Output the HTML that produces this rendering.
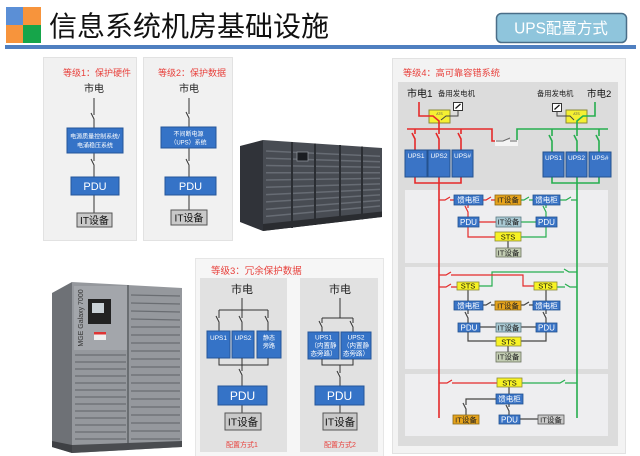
<!DOCTYPE html>
<html><head><meta charset="utf-8">
<style>
html,body{margin:0;padding:0;background:#fff;}
svg{display:block;font-family:"Liberation Sans","Noto Sans CJK SC",sans-serif;}
</style></head><body>
<svg width="640" height="456" viewBox="0 0 640 456" xmlns="http://www.w3.org/2000/svg">
<rect width="640" height="456" fill="#fff"/>
<!-- Header -->
<rect x="6" y="7" width="17" height="18" fill="#5b8fd6"/>
<rect x="23" y="7" width="18" height="18" fill="#f7943c"/>
<rect x="6" y="25" width="17" height="18" fill="#f7943c"/>
<rect x="23" y="25" width="18" height="18" fill="#16a54a"/>
<text x="49" y="36" font-size="28" fill="#111">信息系统机房基础设施</text>
<rect x="5" y="45" width="631" height="4" fill="#4f7fc0"/>
<rect x="496.5" y="13.5" width="130" height="29" rx="5" fill="#8fc5dc" stroke="#4a6e88" stroke-width="1.5"/>
<text x="561" y="33.5" font-size="15.5" fill="#fff" text-anchor="middle">UPS配置方式</text>

<!-- Level 1 -->
<rect x="43.5" y="57.5" width="93" height="183" fill="#f1f1f1" stroke="#e2e2e2"/>
<text x="63" y="76" font-size="9" fill="#e8413c">等级1：保护硬件</text>
<text x="94" y="92" font-size="10" fill="#222" text-anchor="middle">市电</text>
<path d="M94 98V115 M91 113L94 119V128 M94 153V161 M91 159L94 165V177 M94 195V213" stroke="#333" fill="none"/>
<rect x="67" y="128" width="56" height="25" fill="#3573c7" stroke="#25569a"/>
<text x="95" y="138.5" font-size="6" fill="#fff" text-anchor="middle">电源质量控制系统/</text>
<text x="95" y="147.5" font-size="6" fill="#fff" text-anchor="middle">电涌稳压系统</text>
<rect x="71" y="177" width="48" height="18" fill="#3573c7" stroke="#25569a"/>
<text x="95" y="190" font-size="11" fill="#fff" text-anchor="middle">PDU</text>
<rect x="77" y="213" width="35" height="14" fill="#c9c9c9" stroke="#555"/>
<text x="94.5" y="224" font-size="10" fill="#111" text-anchor="middle">IT设备</text>

<!-- Level 2 -->
<rect x="143.5" y="57.5" width="89" height="183" fill="#f1f1f1" stroke="#e2e2e2"/>
<text x="158" y="76" font-size="9" fill="#e8413c">等级2：保护数据</text>
<text x="189" y="92" font-size="10" fill="#222" text-anchor="middle">市电</text>
<path d="M189 98V114 M186 112L189 118V127 M189 148V161 M186 159L189 165V177 M189 195V210" stroke="#333" fill="none"/>
<rect x="161" y="127" width="55" height="21" fill="#3573c7" stroke="#25569a"/>
<text x="188.5" y="136" font-size="6" fill="#fff" text-anchor="middle">不间断电源</text>
<text x="188.5" y="144.5" font-size="6" fill="#fff" text-anchor="middle">（UPS）系统</text>
<rect x="165" y="177" width="51" height="18" fill="#3573c7" stroke="#25569a"/>
<text x="190.5" y="190" font-size="11" fill="#fff" text-anchor="middle">PDU</text>
<rect x="171" y="210" width="36" height="15" fill="#c9c9c9" stroke="#555"/>
<text x="189" y="221.5" font-size="10" fill="#111" text-anchor="middle">IT设备</text>

<!-- Photo 1: cabinet row -->
<g>
<polygon points="240,146 263,140 263,231 240,222" fill="#303339"/>
<polygon points="263,140 382,148 382,217 263,231" fill="#484c53"/>
<g stroke="#676c74" stroke-width="1.5">
<line x1="266" y1="151" x2="380" y2="156.3"/>
<line x1="266" y1="158.2" x2="380" y2="161.8"/>
<line x1="266" y1="165.5" x2="380" y2="167.3"/>
<line x1="266" y1="172.8" x2="380" y2="172.8"/>
<line x1="266" y1="180" x2="380" y2="178.4"/>
<line x1="266" y1="187.3" x2="380" y2="183.9"/>
<line x1="266" y1="194.6" x2="380" y2="189.4"/>
<line x1="266" y1="201.9" x2="380" y2="194.9"/>
<line x1="266" y1="209.2" x2="380" y2="200.4"/>
<line x1="266" y1="216.4" x2="380" y2="206"/>
</g>
<g stroke="#2b2e33" stroke-width="2">
<line x1="292" y1="142" x2="292" y2="228"/>
<line x1="315" y1="143.5" x2="315" y2="225"/>
<line x1="340" y1="145" x2="340" y2="222"/>
<line x1="362" y1="146.5" x2="362" y2="219.5"/>
</g>
<polygon points="263,224 382,211.5 382,217 263,231" fill="#2a2c30"/>
<rect x="297" y="152" width="11" height="9" fill="#1a1d22" stroke="#8a8f96" stroke-width="0.8"/>
</g>

<!-- Photo 2: MGE Galaxy 7000 -->
<g>
<polygon points="52,293 72,282 72,453 52,447" fill="#6e7176"/>
<polygon points="72,282 182,288 182,447 72,453" fill="#95989d"/>
<rect x="74" y="286" width="53" height="64" fill="#a3a6ab"/>
<rect x="88" y="299" width="23" height="25" fill="#222"/>
<rect x="92" y="303" width="12" height="10" fill="#c9d1d6"/>
<rect x="94" y="332" width="12" height="8" fill="#eee"/>
<rect x="94" y="332" width="12" height="2.5" fill="#d33"/>
<text transform="translate(83,318) rotate(-90)" font-size="7" fill="#333" text-anchor="middle">MGE Galaxy 7000</text>
<line x1="128" y1="285" x2="128" y2="450" stroke="#5d6065" stroke-width="1.5"/>
<g stroke="#6a6d72" stroke-width="1.2">
<line x1="75" y1="355" x2="126" y2="355"/><line x1="75" y1="362" x2="126" y2="362"/>
<line x1="75" y1="369" x2="126" y2="369"/><line x1="75" y1="376" x2="126" y2="376"/>
<line x1="75" y1="383" x2="126" y2="383"/><line x1="75" y1="390" x2="126" y2="390"/>
<line x1="75" y1="397" x2="126" y2="397"/><line x1="75" y1="404" x2="126" y2="404"/>
<line x1="75" y1="411" x2="126" y2="411"/><line x1="75" y1="418" x2="126" y2="418"/>
<line x1="75" y1="425" x2="126" y2="425"/><line x1="75" y1="432" x2="126" y2="432"/>
<line x1="75" y1="439" x2="126" y2="439"/>
<line x1="131" y1="295" x2="180" y2="296"/><line x1="131" y1="303" x2="180" y2="304"/>
<line x1="131" y1="311" x2="180" y2="312"/><line x1="131" y1="319" x2="180" y2="320"/>
<line x1="131" y1="327" x2="180" y2="327"/><line x1="131" y1="335" x2="180" y2="335"/>
<line x1="131" y1="343" x2="180" y2="343"/><line x1="131" y1="351" x2="180" y2="351"/>
<line x1="131" y1="359" x2="180" y2="359"/><line x1="131" y1="367" x2="180" y2="367"/>
<line x1="131" y1="375" x2="180" y2="375"/><line x1="131" y1="383" x2="180" y2="383"/>
<line x1="131" y1="391" x2="180" y2="391"/><line x1="131" y1="399" x2="180" y2="399"/>
<line x1="131" y1="407" x2="180" y2="407"/><line x1="131" y1="415" x2="180" y2="415"/>
<line x1="131" y1="423" x2="180" y2="423"/><line x1="131" y1="431" x2="180" y2="431"/>
<line x1="131" y1="439" x2="180" y2="439"/>
</g>
<polygon points="72,445 182,441 182,447 72,453" fill="#4a4c50"/>
<polygon points="52,441 72,445 72,453 52,447" fill="#3e4044"/>
</g>

<!-- Level 3 -->
<rect x="195.5" y="258.5" width="188" height="198" fill="#f6f6f6" stroke="#e6e6e6"/>
<text x="211" y="274" font-size="9.5" fill="#e8413c">等级3：冗余保护数据</text>
<rect x="200" y="278" width="87" height="174" fill="#e1e1e1"/>
<rect x="300" y="278" width="78" height="174" fill="#e1e1e1"/>
<text x="242" y="293" font-size="11" fill="#222" text-anchor="middle">市电</text>
<path d="M242 298V310 M219 310H268 M219 310V318 M216 316L219 322V331 M242 310V318 M239 316L242 322V331 M268 310V318 M265 316L268 322V331" stroke="#333" fill="none"/>
<rect x="207" y="331" width="23" height="27" fill="#3573c7" stroke="#25569a"/>
<rect x="232" y="331" width="22" height="27" fill="#3573c7" stroke="#25569a"/>
<rect x="257" y="331" width="24" height="27" fill="#3573c7" stroke="#25569a"/>
<text x="218.5" y="340" font-size="6.5" fill="#fff" text-anchor="middle">UPS1</text>
<text x="243" y="340" font-size="6.5" fill="#fff" text-anchor="middle">UPS2</text>
<text x="269" y="340" font-size="6" fill="#fff" text-anchor="middle">静态</text>
<text x="269" y="348" font-size="6" fill="#fff" text-anchor="middle">旁路</text>
<path d="M219 358V365H268V358 M242 358V371 M239 369L242 375V386 M242 405V413" stroke="#333" fill="none"/>
<rect x="218" y="386" width="49" height="19" fill="#3573c7" stroke="#25569a"/>
<text x="242.5" y="400" font-size="12" fill="#fff" text-anchor="middle">PDU</text>
<rect x="225" y="413" width="36" height="17" fill="#c9c9c9" stroke="#555"/>
<text x="243" y="425.5" font-size="10.5" fill="#111" text-anchor="middle">IT设备</text>
<text x="242" y="447" font-size="7" fill="#e8413c" text-anchor="middle">配置方式1</text>

<text x="340" y="293" font-size="11" fill="#222" text-anchor="middle">市电</text>
<path d="M340 298V318 M322 318H353 M322 318V323 M319 321L322 327V332 M353 318V323 M350 321L353 327V332" stroke="#333" fill="none"/>
<rect x="308" y="332" width="31" height="27" fill="#3573c7" stroke="#25569a"/>
<rect x="341" y="332" width="30" height="27" fill="#3573c7" stroke="#25569a"/>
<text x="323.5" y="339.5" font-size="6.5" fill="#fff" text-anchor="middle">UPS1</text>
<text x="323.5" y="347.5" font-size="6.5" fill="#fff" text-anchor="middle">（内置静</text>
<text x="323.5" y="355.5" font-size="6.5" fill="#fff" text-anchor="middle">态旁路）</text>
<text x="356" y="339.5" font-size="6.5" fill="#fff" text-anchor="middle">UPS2</text>
<text x="356" y="347.5" font-size="6.5" fill="#fff" text-anchor="middle">（内置静</text>
<text x="356" y="355.5" font-size="6.5" fill="#fff" text-anchor="middle">态旁路）</text>
<path d="M322 359V365H353V359 M340 365V373 M337 371L340 377V386 M340 405V413" stroke="#333" fill="none"/>
<rect x="315" y="386" width="49" height="19" fill="#3573c7" stroke="#25569a"/>
<text x="339.5" y="400" font-size="12" fill="#fff" text-anchor="middle">PDU</text>
<rect x="323" y="413" width="34" height="17" fill="#c9c9c9" stroke="#555"/>
<text x="340" y="425.5" font-size="10.5" fill="#111" text-anchor="middle">IT设备</text>
<text x="340" y="447" font-size="7" fill="#e8413c" text-anchor="middle">配置方式2</text>

<!-- Level 4 -->
<rect x="392.5" y="58.5" width="233" height="395" fill="#f3f3f3" stroke="#e2e2e2"/>
<text x="403" y="76" font-size="9.2" fill="#e8413c">等级4：高可靠容错系统</text>
<rect x="398" y="82" width="220" height="364" fill="#dcdcdc"/>
<rect x="405" y="190" width="203" height="73" fill="#eeeef0"/>
<rect x="405" y="267" width="203" height="102" fill="#eeeef0"/>
<rect x="405" y="374" width="203" height="62" fill="#eeeef0"/>

<text x="407" y="97" font-size="10" fill="#111">市电1</text>
<text x="438" y="96" font-size="7.4" fill="#222">备用发电机</text>
<text x="537" y="96" font-size="7.3" fill="#222">备用发电机</text>
<text x="587" y="97" font-size="9.5" fill="#111">市电2</text>
<rect x="453.5" y="102.5" width="9" height="8" fill="#fff" stroke="#333"/>
<line x1="455.5" y1="108.5" x2="460.5" y2="104" stroke="#111" stroke-width="1.2"/>
<rect x="552.5" y="103.5" width="9" height="8" fill="#fff" stroke="#333"/>
<line x1="554.5" y1="109.5" x2="559.5" y2="105" stroke="#111" stroke-width="1.2"/>
<rect x="429" y="110" width="21" height="13" fill="#f5f032" stroke="#8a8a3a"/>
<rect x="566" y="110" width="21" height="13" fill="#f5f032" stroke="#8a8a3a"/>
<text x="439.5" y="115" font-size="3.5" fill="#555" text-anchor="middle">ATS</text>
<text x="576.5" y="115" font-size="3.5" fill="#555" text-anchor="middle">ATS</text>

<g fill="none" stroke-width="1.6">
<path d="M419 102V116H433L439 121V129" stroke="#e52a2a"/>
<path d="M458 110.5V116H446L441 120" stroke="#444" stroke-width="1"/>
<path d="M595 102V116H583L577 121V129" stroke="#27ae4f"/>
<path d="M557 111.5V116H570L574 120" stroke="#444" stroke-width="1"/>
<!-- buses -->
<path d="M407 129H492V141H496" stroke="#e52a2a"/>
<path d="M517 141V129H608" stroke="#27ae4f"/>
<!-- drops -->
<path d="M415 129V134 M412 133L415 139V150 M439 129V134 M436 133L439 139V150 M461 129V134 M458 133L461 139V150" stroke="#e52a2a"/>
<path d="M552 129V136 M549 135L552 141V152 M577 129V136 M574 135L577 141V152 M599 129V136 M596 135L599 141V152" stroke="#27ae4f"/>
<path d="M415 177V183H461V177 M439 177V418" stroke="#e52a2a"/>
<path d="M552 177V183H599V177 M577 177V418" stroke="#27ae4f"/>
</g>
<rect x="495" y="140" width="23" height="6" fill="#f4f4f4"/>
<path d="M496 141H503L510 138 M510 141H517" stroke="#666" fill="none"/>

<g stroke="#24528f">
<rect x="405" y="150" width="22" height="27" fill="#3a74c6"/>
<rect x="428" y="150" width="22" height="27" fill="#3a74c6"/>
<rect x="452" y="150" width="21" height="27" fill="#3a74c6"/>
<rect x="543" y="152" width="21" height="25" fill="#3a74c6"/>
<rect x="566" y="152" width="21" height="25" fill="#3a74c6"/>
<rect x="589" y="152" width="22" height="25" fill="#3a74c6"/>
</g>
<g font-size="6.5" fill="#fff" text-anchor="middle">
<text x="416" y="158">UPS1</text><text x="439" y="158">UPS2</text><text x="462.5" y="158">UPS#</text>
<text x="553.5" y="160">UPS1</text><text x="576.5" y="160">UPS2</text><text x="600" y="160">UPS#</text>
</g>

<!-- Sub-panel 1 -->
<g fill="none" stroke-width="1.2">
<path d="M439 200H445L450 197 M450 200H454 M483 200H486L491 197 M491 200H495 M468 205V208 M465 206L468 212V217 M479 222H496 M468 227V237H495" stroke="#e52a2a"/>
<path d="M521 200H524L529 197 M529 200H533 M560 200H566L571 197 M571 200H577 M546 205V208 M543 206L546 212V217 M521 222H536 M546 227V237H521" stroke="#27ae4f"/>
<path d="M508 241V248" stroke="#444"/>
<!-- Sub-panel 2 -->
<path d="M577 272H569L564 269 M564 272H492V286H479 M577 287H570L565 284 M565 287H557" stroke="#27ae4f"/>
<path d="M439 275H446L451 272 M451 275H523V286H534 M439 287H446L451 284 M451 287H457" stroke="#e52a2a"/>
<path d="M468 290V301 M546 290V301 M483 305H486L491 302 M491 305H495 M521 305H524L529 302 M529 305H533 M468 310V314 M465 312L468 318V323 M546 310V314 M543 312L546 318V323 M480 327H496 M521 327H536 M468 332V341H496 M546 332V341H521 M508 346V352" stroke="#444"/>
<!-- Sub-panel 3 -->
<path d="M439 383H447L452 380 M452 383H497" stroke="#e52a2a"/>
<path d="M522 383H560L565 380 M565 383H577" stroke="#27ae4f"/>
<path d="M509 387V394 M496 399H466V405 M463 403L466 409V415 M509 404V407 M506 405L509 411V415 M520 419H538" stroke="#444"/>
</g>

<!-- boxes sub-panel 1 -->
<g stroke-width="0.8">
<rect x="454" y="195" width="29" height="10" fill="#3a74c6" stroke="#24528f"/>
<rect x="495" y="195" width="26" height="10" fill="#e6a31c" stroke="#8a6a1a"/>
<rect x="533" y="195" width="27" height="10" fill="#3a74c6" stroke="#24528f"/>
<rect x="458" y="217" width="21" height="10" fill="#3a74c6" stroke="#24528f"/>
<rect x="496" y="217" width="25" height="10" fill="#a9c9d3" stroke="#5b7a84"/>
<rect x="536" y="217" width="21" height="10" fill="#3a74c6" stroke="#24528f"/>
<rect x="495" y="232" width="26" height="9" fill="#f7f224" stroke="#8a8a3a"/>
<rect x="496" y="248" width="25" height="9" fill="#c3cdb3" stroke="#6b735e"/>
<!-- sub-panel 2 -->
<rect x="457" y="282" width="22" height="8" fill="#f7f224" stroke="#8a8a3a"/>
<rect x="534" y="282" width="23" height="8" fill="#f7f224" stroke="#8a8a3a"/>
<rect x="454" y="301" width="29" height="9" fill="#3a74c6" stroke="#24528f"/>
<rect x="495" y="301" width="26" height="9" fill="#e6a31c" stroke="#8a6a1a"/>
<rect x="533" y="301" width="27" height="9" fill="#3a74c6" stroke="#24528f"/>
<rect x="458" y="323" width="22" height="9" fill="#3a74c6" stroke="#24528f"/>
<rect x="496" y="323" width="25" height="9" fill="#a9c9d3" stroke="#5b7a84"/>
<rect x="536" y="323" width="21" height="9" fill="#3a74c6" stroke="#24528f"/>
<rect x="496" y="337" width="25" height="9" fill="#f7f224" stroke="#8a8a3a"/>
<rect x="496" y="352" width="25" height="10" fill="#c3cdb3" stroke="#6b735e"/>
<!-- sub-panel 3 -->
<rect x="497" y="378" width="25" height="9" fill="#f7f224" stroke="#8a8a3a"/>
<rect x="496" y="394" width="27" height="10" fill="#3a74c6" stroke="#24528f"/>
<rect x="453" y="415" width="26" height="9" fill="#e6a31c" stroke="#8a6a1a"/>
<rect x="499" y="415" width="21" height="9" fill="#3a74c6" stroke="#24528f"/>
<rect x="538" y="415" width="26" height="9" fill="#c9c9c9" stroke="#555"/>
</g>
<g font-size="7.5" text-anchor="middle">
<text x="468.5" y="202.7" fill="#fff">馈电柜</text>
<text x="508" y="202.7" fill="#222">IT设备</text>
<text x="546.5" y="202.7" fill="#fff">馈电柜</text>
<text x="468.5" y="224.8" fill="#fff" font-size="8">PDU</text>
<text x="508.5" y="224.7" fill="#222">IT设备</text>
<text x="546.5" y="224.8" fill="#fff" font-size="8">PDU</text>
<text x="508" y="239.3" fill="#111">STS</text>
<text x="508.5" y="255.3" fill="#222">IT设备</text>
<text x="468" y="288.7" fill="#111">STS</text>
<text x="545.5" y="288.7" fill="#111">STS</text>
<text x="468.5" y="308.3" fill="#fff">馈电柜</text>
<text x="508" y="308.3" fill="#222">IT设备</text>
<text x="546.5" y="308.3" fill="#fff">馈电柜</text>
<text x="469" y="330.5" fill="#fff" font-size="8">PDU</text>
<text x="508.5" y="330.3" fill="#222">IT设备</text>
<text x="546.5" y="330.5" fill="#fff" font-size="8">PDU</text>
<text x="508.5" y="344.3" fill="#111">STS</text>
<text x="508.5" y="359.7" fill="#222">IT设备</text>
<text x="509.5" y="385.3" fill="#111">STS</text>
<text x="509.5" y="401.7" fill="#fff">馈电柜</text>
<text x="466" y="422.3" fill="#222">IT设备</text>
<text x="509.5" y="422.5" fill="#fff" font-size="8">PDU</text>
<text x="551" y="422.3" fill="#222">IT设备</text>
</g>
</svg>
</body></html>
